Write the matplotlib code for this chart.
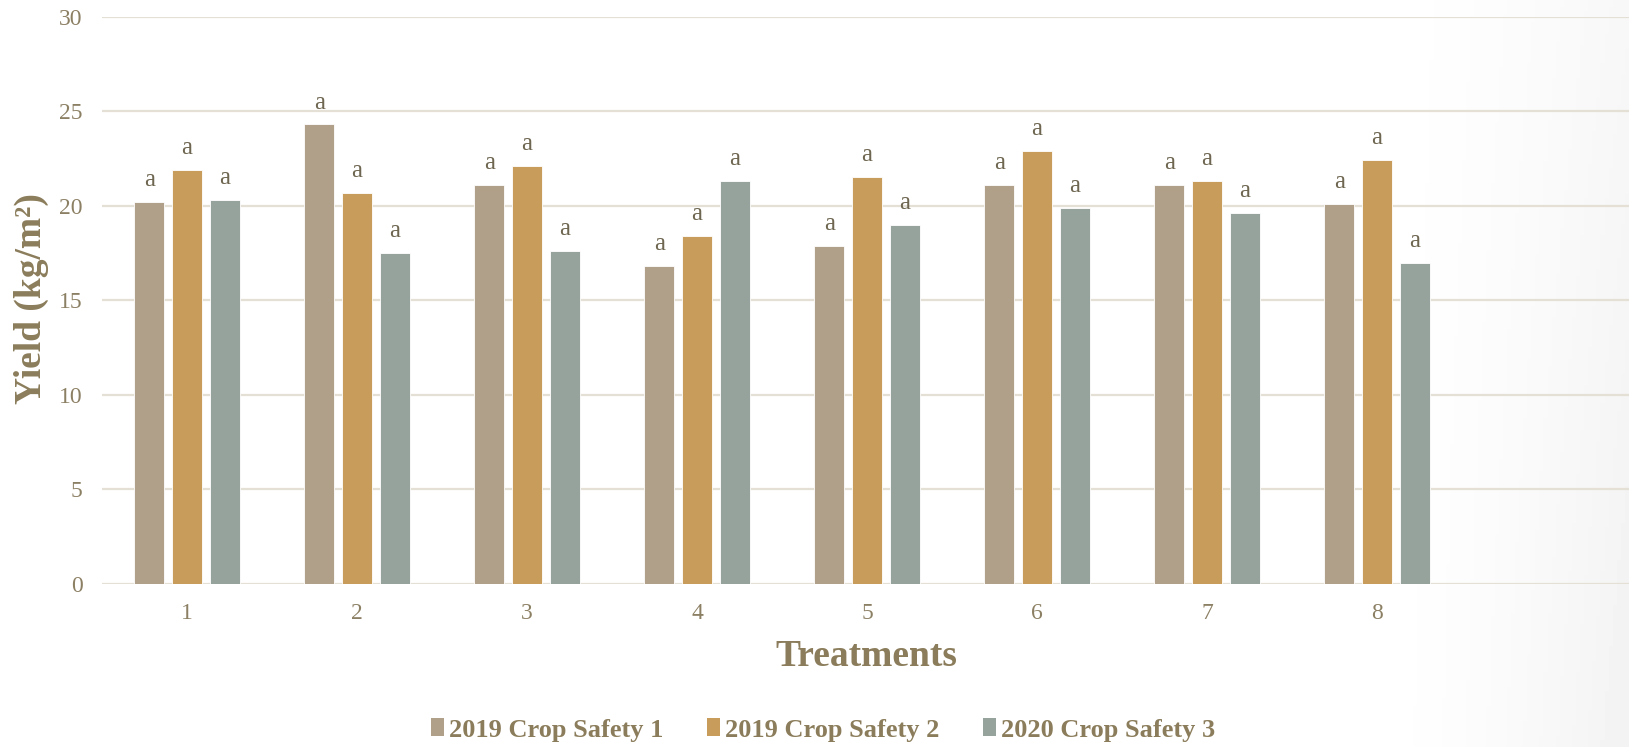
import matplotlib
matplotlib.use("Agg")
import matplotlib.pyplot as plt
import matplotlib.patches as mpatches
import numpy as np

# ---- data ----
categories = ["1", "2", "3", "4", "5", "6", "7", "8", ""]
series_names = ["2019 Crop Safety 1", "2019 Crop Safety 2", "2020 Crop Safety 3"]
safety1 = [20.2, 24.3, 21.1, 16.8, 17.9, 21.1, 21.1, 20.1]
safety2 = [21.9, 20.7, 22.1, 18.4, 21.5, 22.9, 21.3, 22.4]
safety3 = [20.3, 17.5, 17.6, 21.3, 19.0, 19.9, 19.6, 17.0]
letters1 = ["a"] * 8
letters2 = ["a"] * 8
letters3 = ["a"] * 8
y_ticks = [0, 5, 10, 15, 20, 25, 30]

colors = ["#B09F89", "#C89D5C", "#95A39C"]
txt_color = "#8B7D5B"
tick_color = "#8C8064"
letter_color = "#6E6650"
grid_color = "#E4E0D6"

plt.rcParams["font.family"] = ["Liberation Serif", "DejaVu Serif"]

fig = plt.figure(figsize=(16.29, 7.47), dpi=100)

# subtle background gradient on the right
bg = fig.add_axes([0, 0, 1, 1], zorder=-10)
xs = np.linspace(0, 1, 400)
ys = np.linspace(0, 1, 200)[:, None]
g = np.clip((xs[None, :] - 0.84) / 0.16, 0, 1) ** 1.5 * (0.6 + 0.4 * ys)
img = 1.0 - 0.05 * g
bg.imshow(img, cmap="gray", vmin=0, vmax=1, aspect="auto", extent=[0, 1, 1, 0])
bg.set_axis_off()

ax = fig.add_axes([102 / 1629, 163 / 747, 1530 / 1629, 567.3 / 747])
ax.set_facecolor("none")

x = np.arange(len(safety1))
width = 0.174
offset = 0.222
all_series = [safety1, safety2, safety3]
all_letters = [letters1, letters2, letters3]
for i, (vals, lets) in enumerate(zip(all_series, all_letters)):
    pos = x + (i - 1) * offset
    bars = ax.bar(pos, vals, width=width, color=colors[i], zorder=3,
                  edgecolor="white", linewidth=0.6, label=series_names[i])
    for b, v, lt in zip(bars, vals, lets):
        ax.annotate(lt, (b.get_x() + b.get_width() / 2, v),
                    xytext=(0, 11.5), textcoords="offset points",
                    ha="center", va="baseline", fontsize=18,
                    color=letter_color)

ax.set_xlim(-0.5, len(categories) - 0.5)
ax.set_ylim(0, 30)
ax.set_yticks(y_ticks)
ax.set_xticks(np.arange(len(categories)))
ax.set_xticklabels(categories)
ax.tick_params(axis="both", length=0, labelsize=17, colors=tick_color)
ax.tick_params(axis="y", pad=14)
ax.tick_params(axis="x", pad=14)
ax.yaxis.grid(True, color=grid_color, linewidth=1.6, zorder=0)
ax.set_axisbelow(True)
for s in ax.spines.values():
    s.set_visible(False)

fig.text(31 / 1629, 1 - 299 / 747, "Yield (kg/m²)", rotation=90,
         ha="center", va="center", fontsize=27, fontweight="bold", color=txt_color)
fig.text(866 / 1629, 1 - 657 / 747, "Treatments", ha="center", va="center",
         fontsize=27, fontweight="bold", color=txt_color)

handles = [mpatches.Patch(facecolor=c, edgecolor="none") for c in colors]
leg = fig.legend(handles, series_names, loc="center", bbox_to_anchor=(823 / 1629, 17 / 747),
                 ncol=3, frameon=False, handlelength=0.5, handleheight=0.65,
                 handletextpad=0.18, columnspacing=1.65, borderpad=0.1,
                 prop={"family": "Liberation Serif", "weight": "bold", "size": 19})
for t in leg.get_texts():
    t.set_color(txt_color)

fig.savefig("out.png", dpi=100)
